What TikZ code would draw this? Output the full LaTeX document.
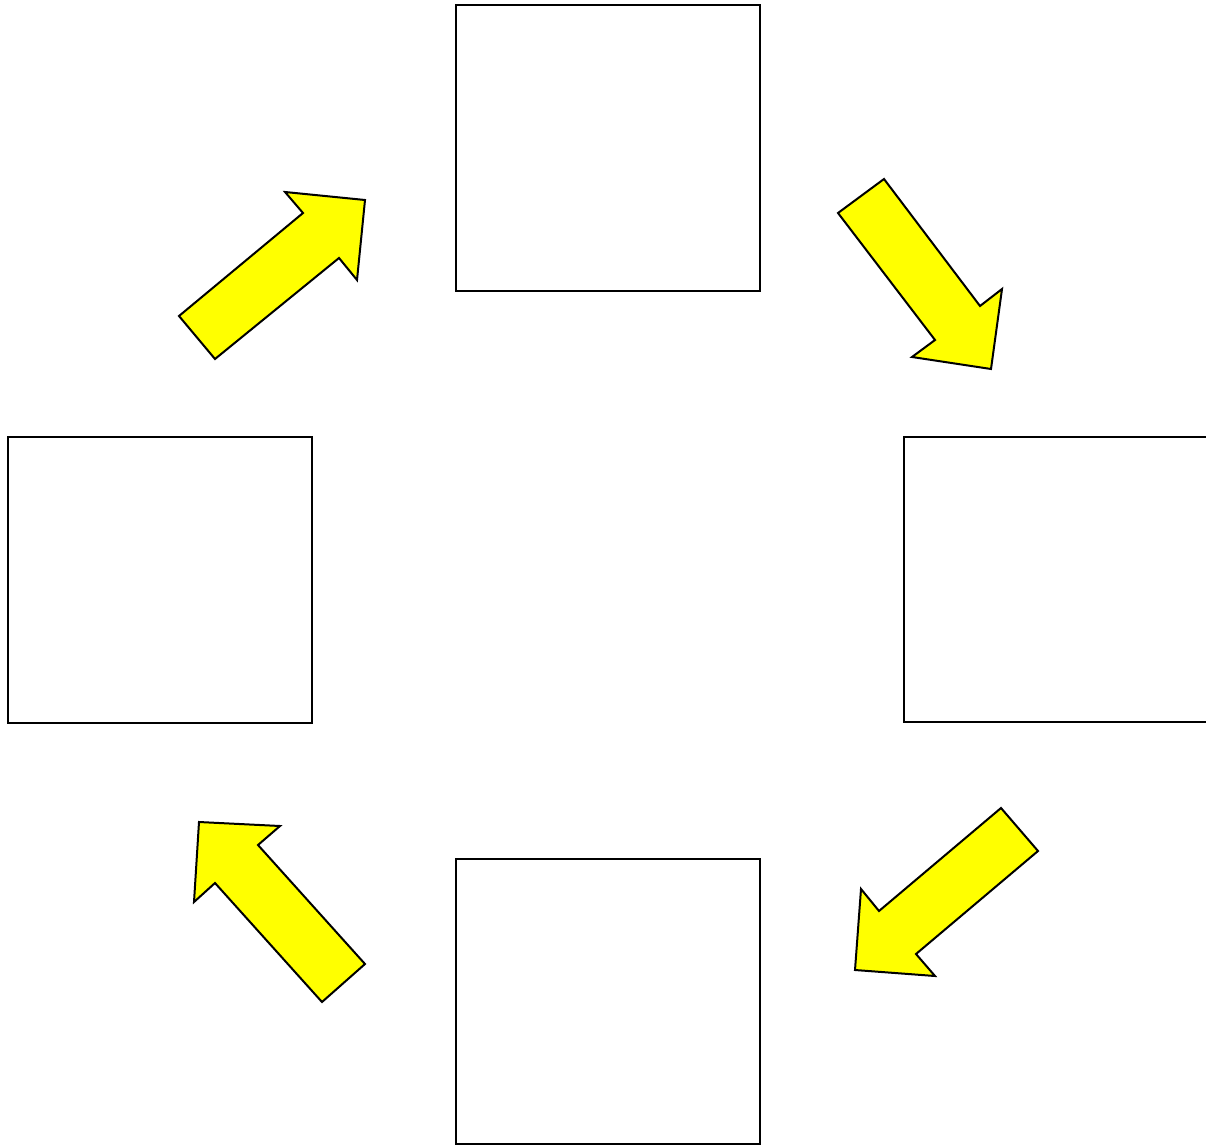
\documentclass[tikz,border=0pt]{standalone}
\definecolor{arrowyellow}{RGB}{255,255,0}
\begin{document}
\begin{tikzpicture}[x=1pt,y=-1pt,
  box/.style={draw=black,line width=1.7pt,fill=white},
  blockarrow/.style={draw=black,line width=2pt,fill=arrowyellow,line join=miter}]
\useasboundingbox (0,0) rectangle (1206,1145);
\begin{scope}
\clip (0,0) rectangle (1206,1145);
% boxes
\draw[box] (456,5) rectangle (760,291);
\draw[box] (8,437) rectangle (312,723);
\draw[box] (904,437) rectangle (1215,722);
\draw[box] (456,859) rectangle (760,1144);
% arrows
\draw[blockarrow] (179,316) -- (303,213) -- (285,192) -- (365,200) -- (357,280) -- (339,258) -- (215,359) -- cycle;
\draw[blockarrow] (838,213) -- (884,179) -- (980,306) -- (1002,289) -- (991,369) -- (912,357) -- (935,340) -- cycle;
\draw[blockarrow] (1001,808) -- (1038,851) -- (916,954) -- (935,976) -- (855,970) -- (861,889) -- (879,911) -- cycle;
\draw[blockarrow] (365,964) -- (322,1002) -- (215,883) -- (194,902) -- (199,822) -- (280,826) -- (258,845) -- cycle;
\end{scope}
\end{tikzpicture}
\end{document}
